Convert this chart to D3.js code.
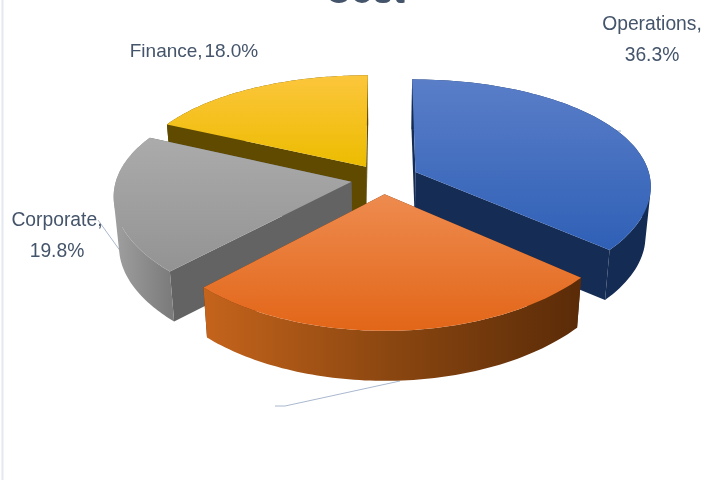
<!DOCTYPE html>
<html>
<head>
<meta charset="utf-8">
<script src="https://cdn.jsdelivr.net/npm/d3@7"></script>
<style>
html,body{margin:0;padding:0;background:#fff;overflow:hidden}
svg{filter:blur(0.4px);display:block}
text{font-family:"Liberation Sans",Arial,sans-serif;fill:#44546a}
</style>
</head>
<body>
<svg id="c" width="704" height="480"></svg>
<script>
const categories = ["Operations", "", "Corporate", "Finance"];
const values = [36.3, 25.9, 19.8, 18.0];
const labelLines = [["Operations,", "36.3%"], [], ["Corporate,", "19.8%"], ["Finance, 18.0%"]];
const title = "Cost";
const drawOrder = [3, 2, 0, 1];
const explodes = [36, 32, 32, 32];
const topColors = [["#5a7ec8", "#2f60b6"], ["#ee8b4f", "#e26618"], ["#ababab", "#939393"], ["#fcc63c", "#ecbc00"]];
const wallColors = [["#142b53", "#142b53"], ["#c5641c", "#8a4610", "#5a2b08"], ["#a0a0a0", "#7c7c7c"], ["#5f4a00", "#5f4a00"]];
const cutColors = ["#152c55", "#5a2b08", "#636363", "#5f4a00"];

const W = 704, H = 480, cx = 383, cy = 179, R = 235, depth = 50;
const radius = d3.scaleLinear().domain([0, 1]).range([0, R]);
const perspX = 0.0005, perspY = 0.000677, tilt = 0.466;
function project(u, v) {
  return [cx + u / (1 - perspX * v), cy + tilt * v / (1 - perspY * v)];
}
const lower = p => [cx + (p[0] - cx) * 0.98, p[1] + depth];

const svg = d3.select("#c");
const defs = svg.append("defs");
const arcs = d3.pie().sort(null).value(d => d)(values);

function gradient(id, colors, x1, y1, x2, y2) {
  const g = defs.append("linearGradient").attr("id", id)
    .attr("gradientUnits", "userSpaceOnUse")
    .attr("x1", x1).attr("y1", y1).attr("x2", x2).attr("y2", y2);
  colors.forEach((c, i) => g.append("stop")
    .attr("offset", i / (colors.length - 1)).attr("stop-color", c));
}

const line = d3.line();
function slicePoints(a, e) {
  const mid = (a.startAngle + a.endAngle) / 2;
  const ex = e * Math.sin(mid), ey = e * -Math.cos(mid);
  const apex = project(ex, ey);
  const n = 80;
  const rim = d3.range(n + 1).map(i => {
    const t = a.startAngle + (a.endAngle - a.startAngle) * i / n;
    return project(ex + radius(1) * Math.sin(t), ey - radius(1) * Math.cos(t));
  });
  return { apex, rim };
}
// Union of the quads swept by the rim going down: keeps a clean silhouette
function sweptWall(rim) {
  return d3.range(rim.length - 1).map(k => {
    const q = [rim[k], rim[k + 1], lower(rim[k + 1]), lower(rim[k])];
    if (d3.polygonArea(q) < 0) q.reverse();
    return line(q) + "Z";
  }).join("");
}

// leader lines sit behind the pie
const leader = svg.append("g").attr("fill", "none").attr("stroke", "#a9b8ce").attr("stroke-width", 1);
leader.append("path").attr("d", line([[275, 406], [285, 406], [400, 381]]));
leader.append("path").attr("d", line([[98, 220], [121, 252]]));
leader.append("path").attr("d", line([[610, 131], [621, 131]]));

// left border of the chart frame
svg.append("line").attr("x1", 2.5).attr("x2", 2.5).attr("y1", 0).attr("y2", H)
  .attr("stroke", "#e3e7ef").attr("stroke-width", 2);

drawOrder.forEach(i => {
  const { apex, rim } = slicePoints(arcs[i], explodes[i]);
  const xs = rim.map(p => p[0]), ys = rim.concat([apex]).map(p => p[1]);
  const g = svg.append("g").attr("class", "slice").datum(categories[i]);
  gradient("top" + i, topColors[i], 0, d3.min(ys), 0, d3.max(ys));
  gradient("wall" + i, wallColors[i], d3.min(xs), 0, d3.max(xs), 0);

  const first = rim[0], last = rim[rim.length - 1];
  [first, last].forEach(p => {
    g.append("path")
      .attr("d", line([apex, p, lower(p), lower(apex)]) + "Z")
      .attr("fill", cutColors[i]);
  });
  g.append("path")
    .attr("d", sweptWall(rim))
    .attr("fill", `url(#wall${i})`).attr("fill-rule", "nonzero");
  g.append("path")
    .attr("d", line([apex].concat(rim)) + "Z")
    .attr("fill", `url(#top${i})`);
});

const labelPos = [[652, 30], null, [57, 226], [194, 57]];
labelLines.forEach((lines, i) => {
  if (!lines.length) return;
  const t = svg.append("text").attr("text-anchor", "middle").attr("font-size", lines.length === 1 ? 19 : 19.3);
  if (lines.length === 1) t.attr("word-spacing", -3.5);
  lines.forEach((s, j) => t.append("tspan")
    .attr("x", labelPos[i][0]).attr("y", labelPos[i][1] + j * 31).text(s));
});

svg.append("text").attr("x", 365).attr("y", 3).attr("text-anchor", "middle")
  .attr("font-size", 36).attr("font-weight", 700).text(title);
</script>
</body>
</html>
